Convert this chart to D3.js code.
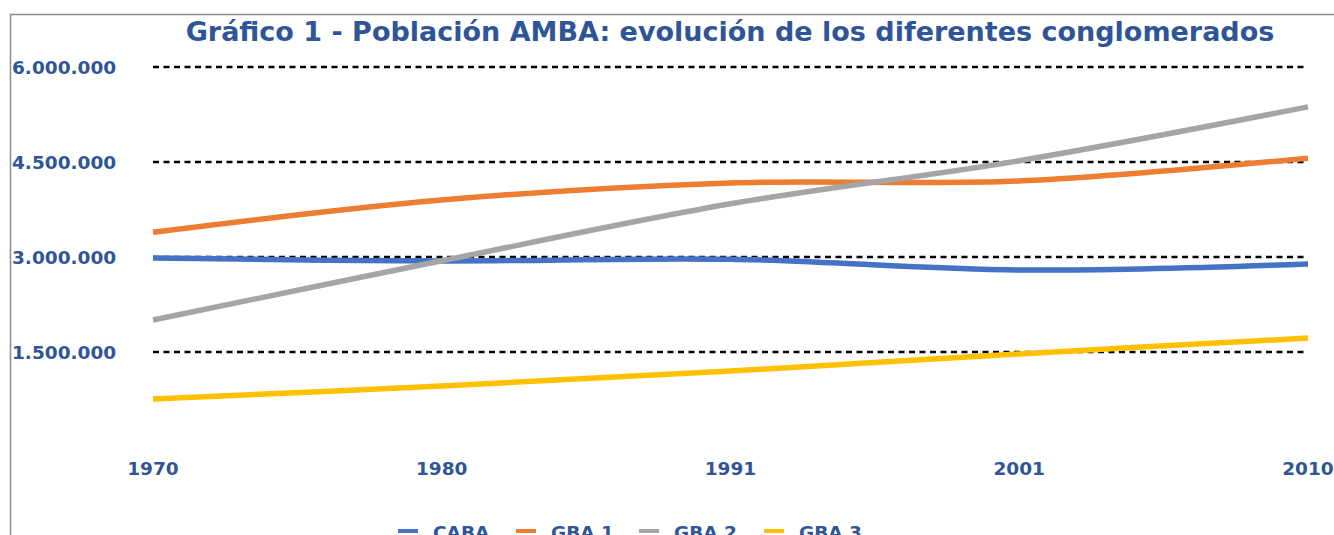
<!DOCTYPE html>
<html>
<head>
<meta charset="utf-8">
<title>Población AMBA</title>
<style>
    body { margin: 0; background: #ffffff; }
    text { font-family: Verdana, "DejaVu Sans", sans-serif; font-weight: bold; fill: #2F5597; }
    .title { font-size: 27px; }
    .tick-label { font-size: 18.5px; }
    .legend-label { font-size: 18.5px; }
</style>
<script src="https://d3js.org/d3.v7.min.js"></script>
</head>
<body>
<div id="chart"></div>
<script>
    var years = ["1970", "1980", "1991", "2001", "2010"];
    var caba = [2984000, 2937000, 2965000, 2795000, 2890000];
    var gba1 = [3390000, 3900000, 4170000, 4200000, 4560000];
    var gba2 = [2005000, 2940000, 3840000, 4520000, 5370000];
    var gba3 = [758000, 963000, 1200000, 1470000, 1720000];
    var yTicks = [1500000, 3000000, 4500000, 6000000];
    var seriesNames = ["CABA", "GBA 1", "GBA 2", "GBA 3"];
    var seriesColors = ["#4472C4", "#ED7D31", "#A5A5A5", "#FFC000"];

    var series = [caba, gba1, gba2, gba3].map(function(values, i) {
        return { name: seriesNames[i], color: seriesColors[i], values: values };
    });

    var width = 1334, height = 535;
    var svg = d3.select("#chart").append("svg")
        .attr("width", width)
        .attr("height", height);

    // chart frame (runs off the right and bottom edges)
    svg.append("rect")
        .attr("x", 10.5).attr("y", 14.5)
        .attr("width", 1500).attr("height", 700)
        .attr("fill", "none")
        .attr("stroke", "#8c8c8c")
        .attr("stroke-width", 1.5);

    svg.append("text")
        .attr("class", "title")
        .attr("x", 730)
        .attr("y", 41)
        .attr("text-anchor", "middle")
        .text("Gráfico 1 - Población AMBA: evolución de los diferentes conglomerados");

    var x = d3.scalePoint().domain(years).range([153, 1308]);
    var y = d3.scaleLinear().domain([0, 6000000]).range([447, 67]);

    var fmt = function(v) { return d3.format(",")(v).replace(/,/g, "."); };

    // gridlines
    svg.append("g").selectAll("line")
        .data(yTicks)
        .enter().append("line")
        .attr("x1", 153).attr("x2", 1308)
        .attr("y1", function(d) { return y(d); })
        .attr("y2", function(d) { return y(d); })
        .attr("stroke", "#000")
        .attr("stroke-width", 2.5)
        .attr("stroke-dasharray", "6,4.5");

    // y tick labels
    svg.append("g").selectAll("text")
        .data(yTicks)
        .enter().append("text")
        .attr("class", "tick-label")
        .attr("x", 12)
        .attr("y", function(d) { return y(d) + 7; })
        .text(fmt);

    // x labels
    svg.append("g").selectAll("text")
        .data(years)
        .enter().append("text")
        .attr("class", "tick-label")
        .attr("x", function(d) { return x(d); })
        .attr("y", 475)
        .attr("text-anchor", "middle")
        .text(function(d) { return d; });

    var line = d3.line()
        .x(function(d, i) { return x(years[i]); })
        .y(function(d) { return y(d); })
        .curve(d3.curveCatmullRom.alpha(0.5));

    svg.append("g").selectAll("path")
        .data(series)
        .enter().append("path")
        .attr("d", function(d) { return line(d.values); })
        .attr("fill", "none")
        .attr("stroke", function(d) { return d.color; })
        .attr("stroke-width", 5.5);

    // legend (cut by the bottom edge, as in the source)
    var legendX = [398, 516, 639, 764];
    var legend = svg.append("g").selectAll("g")
        .data(series)
        .enter().append("g")
        .attr("transform", function(d, i) { return "translate(" + legendX[i] + ",531)"; });
    legend.append("line")
        .attr("x1", 0).attr("x2", 20)
        .attr("y1", 0).attr("y2", 0)
        .attr("stroke", function(d) { return d.color; })
        .attr("stroke-width", 4);
    legend.append("text")
        .attr("class", "legend-label")
        .attr("x", 35)
        .attr("y", 8)
        .text(function(d) { return d.name; });
</script>
</body>
</html>
